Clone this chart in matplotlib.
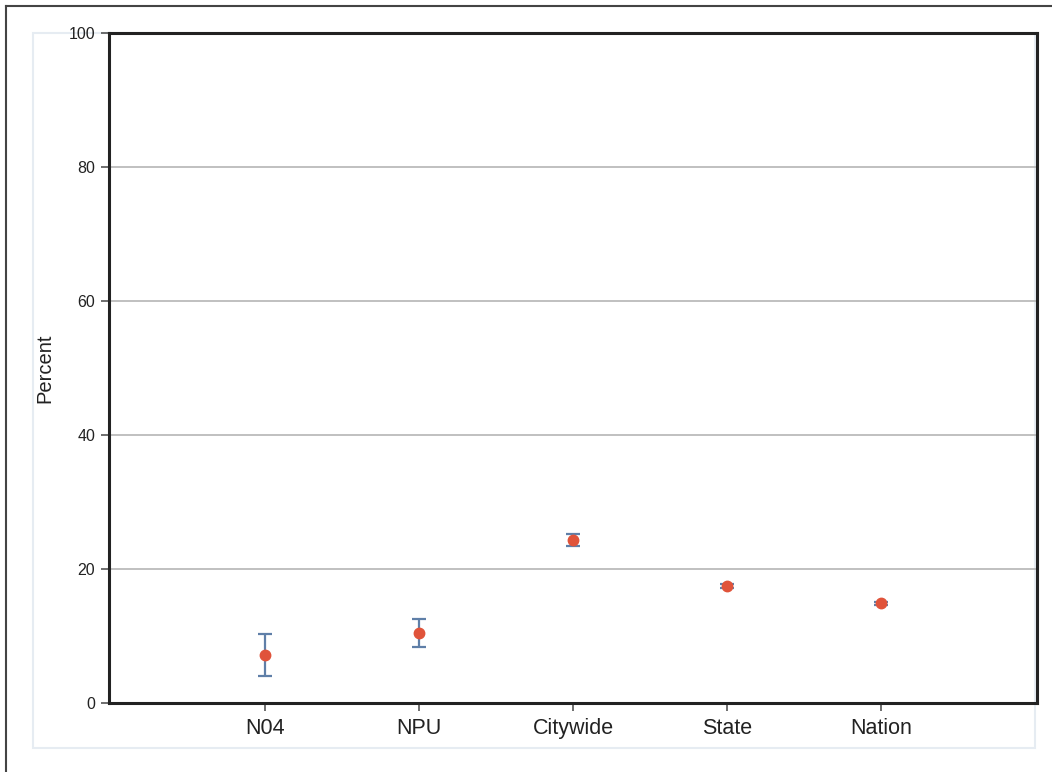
import matplotlib.pyplot as plt
from matplotlib.patches import Rectangle
from matplotlib.lines import Line2D

plt.rcParams['font.family'] = ['Liberation Sans', 'DejaVu Sans']

categories = ["N04", "NPU", "Citywide", "State", "Nation"]
values = [7.2, 10.4, 24.3, 17.5, 14.9]
lower = [4.1, 8.4, 23.4, 17.2, 14.7]
upper = [10.3, 12.5, 25.2, 17.8, 15.1]
y_ticks = [0, 20, 40, 60, 80, 100]

W, H = 1052, 772
fig = plt.figure(figsize=(W / 100, H / 100), dpi=100)

# outer frame (only left and top edges are visible in the crop)
fig.add_artist(Line2D([6 / W, 6 / W], [0, 1 - 6 / H], color="#444444", lw=1.5))
fig.add_artist(Line2D([6 / W, 1], [1 - 6 / H, 1 - 6 / H], color="#444444", lw=1.5))

# light panel behind the plot
fig.add_artist(Rectangle((33 / W, 1 - 748 / H), (1035 - 33) / W, (748 - 33) / H,
                         fill=False, edgecolor="#e6ecf2", lw=1.5, zorder=-1))

ax = fig.add_axes([109 / W, 1 - 703 / H, (1037 - 109) / W, (703 - 33) / H])
ax.patch.set_alpha(0)

x = list(range(len(categories)))
err_lo = [v - l for v, l in zip(values, lower)]
err_hi = [u - v for v, u in zip(values, upper)]
ax.errorbar(x, values, yerr=[err_lo, err_hi], fmt="none", ecolor="#5f7fa8",
            elinewidth=1.6, capsize=5, capthick=1.6, zorder=3)
ax.plot(x, values, "o", color="#e0533a", markersize=7.5, zorder=4)

ax.set_xlim(-1.01, 5.01)
ax.set_ylim(0, 100)
ax.set_xticks(x)
ax.set_xticklabels(categories, fontsize=15.5, color="#222222")
ax.set_yticks(y_ticks)
ax.set_yticklabels([str(t) for t in y_ticks], fontsize=11.5, color="#222222")
ax.set_ylabel("Percent", fontsize=14.5, color="#222222")
ax.yaxis.set_label_coords(-0.059, 0.5)

ax.grid(axis="y", color="#b5b5b5", lw=1.2)
ax.set_axisbelow(True)
for s in ax.spines.values():
    s.set_linewidth(2.2)
    s.set_color("#222222")
ax.tick_params(axis="y", length=6, width=1.2, color="#555555", pad=4)
ax.tick_params(axis="x", length=6, width=1.2, color="#555555", pad=5)

fig.savefig("out.png", dpi=100)
